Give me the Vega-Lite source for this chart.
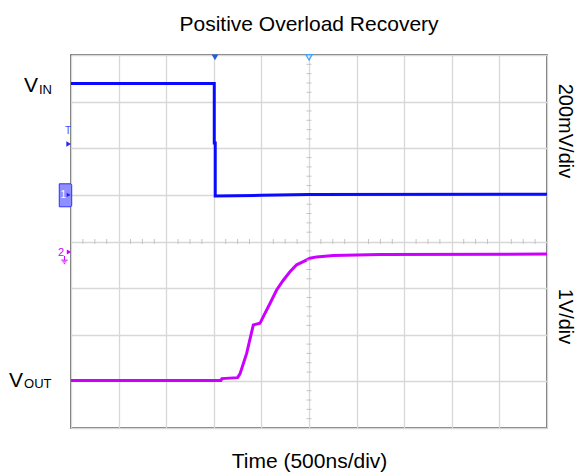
{
  "$schema": "https://vega.github.io/schema/vega-lite/v6.json",
  "width": 476,
  "height": 373,
  "autosize": {"type": "none"},
  "padding": {"left": 71, "top": 55, "right": 30, "bottom": 44},
  "title": {"text": "Positive Overload Recovery", "fontSize": 21, "font": "Liberation Sans", "fontWeight": "normal", "color": "#000000", "baseline": "alphabetic", "offset": 0, "anchor": "middle"},
  "config": {"view": {"stroke": "#4a4a4a", "strokeWidth": 1.5}, "font": "Liberation Sans"},
  "datasets": {
    "traces": [
      {"series": "VIN", "i": 0, "x": 0, "y": 3.39},
      {"series": "VIN", "i": 1, "x": 3.01, "y": 3.39},
      {"series": "VIN", "i": 2, "x": 3.01, "y": 2.11},
      {"series": "VIN", "i": 3, "x": 3.03, "y": 2.11},
      {"series": "VIN", "i": 4, "x": 3.03, "y": 0.975},
      {"series": "VIN", "i": 5, "x": 4.0, "y": 0.99},
      {"series": "VIN", "i": 6, "x": 5.0, "y": 1.01},
      {"series": "VIN", "i": 7, "x": 10, "y": 1.015},
      {"series": "VOUT", "i": 0, "x": 0, "y": -2.98},
      {"series": "VOUT", "i": 1, "x": 3.15, "y": -2.98},
      {"series": "VOUT", "i": 2, "x": 3.17, "y": -2.94},
      {"series": "VOUT", "i": 3, "x": 3.5, "y": -2.92},
      {"series": "VOUT", "i": 4, "x": 3.55, "y": -2.84},
      {"series": "VOUT", "i": 5, "x": 3.69, "y": -2.4},
      {"series": "VOUT", "i": 6, "x": 3.83, "y": -1.79},
      {"series": "VOUT", "i": 7, "x": 3.97, "y": -1.755},
      {"series": "VOUT", "i": 8, "x": 4.04, "y": -1.61},
      {"series": "VOUT", "i": 9, "x": 4.18, "y": -1.33},
      {"series": "VOUT", "i": 10, "x": 4.32, "y": -1.04},
      {"series": "VOUT", "i": 11, "x": 4.46, "y": -0.83},
      {"series": "VOUT", "i": 12, "x": 4.6, "y": -0.65},
      {"series": "VOUT", "i": 13, "x": 4.74, "y": -0.5},
      {"series": "VOUT", "i": 14, "x": 4.88, "y": -0.43},
      {"series": "VOUT", "i": 15, "x": 5.02, "y": -0.36},
      {"series": "VOUT", "i": 16, "x": 5.16, "y": -0.33},
      {"series": "VOUT", "i": 17, "x": 5.51, "y": -0.3},
      {"series": "VOUT", "i": 18, "x": 6.49, "y": -0.28},
      {"series": "VOUT", "i": 19, "x": 10, "y": -0.27}
    ],
    "minorX": [
      {"v": 0.25}, {"v": 0.5}, {"v": 0.75}, {"v": 1.25}, {"v": 1.5}, {"v": 1.75}, {"v": 2.25}, {"v": 2.5}, {"v": 2.75},
      {"v": 3.25}, {"v": 3.5}, {"v": 3.75}, {"v": 4.25}, {"v": 4.5}, {"v": 4.75}, {"v": 5.25}, {"v": 5.5}, {"v": 5.75},
      {"v": 6.25}, {"v": 6.5}, {"v": 6.75}, {"v": 7.25}, {"v": 7.5}, {"v": 7.75}, {"v": 8.25}, {"v": 8.5}, {"v": 8.75},
      {"v": 9.25}, {"v": 9.5}, {"v": 9.75}
    ],
    "minorY": [
      {"v": -3.8}, {"v": -3.6}, {"v": -3.4}, {"v": -3.2}, {"v": -2.8}, {"v": -2.6}, {"v": -2.4}, {"v": -2.2},
      {"v": -1.8}, {"v": -1.6}, {"v": -1.4}, {"v": -1.2}, {"v": -0.8}, {"v": -0.6}, {"v": -0.4}, {"v": -0.2},
      {"v": 0.2}, {"v": 0.4}, {"v": 0.6}, {"v": 0.8}, {"v": 1.2}, {"v": 1.4}, {"v": 1.6}, {"v": 1.8},
      {"v": 2.2}, {"v": 2.4}, {"v": 2.6}, {"v": 2.8}, {"v": 3.2}, {"v": 3.4}, {"v": 3.6}, {"v": 3.8}
    ],
    "bigLabels": [
      {"x": -0.987, "y": 3.213, "t": "V"},
      {"x": -1.303, "y": -3.114, "t": "V"}
    ],
    "subLabels": [
      {"x": -0.672, "y": 3.157, "t": "IN"},
      {"x": -0.987, "y": -3.149, "t": "OUT"}
    ],
    "scaleLabels": [
      {"x": 10.37, "y": 2.37, "t": "200mV/div"},
      {"x": 10.37, "y": -1.609, "t": "1V/div"}
    ],
    "trigFilled": [{"x": 3.025, "y": 3.95}],
    "trigHollow": [{"x": 5.0, "y": 3.95}],
    "blueArrows": [{"x": -0.048, "y": 2.09}],
    "blueT": [{"x": -0.063, "y": 2.3, "t": "T"}],
    "ch1Box": [{"x": -0.116, "y": 0.991}],
    "ch1Text": [{"x": -0.16, "y": 0.93, "t": "1"}],
    "ch1Arrow": [{"x": -0.05, "y": 1.0}],
    "ch2Arrow": [{"x": -0.042, "y": -0.225}],
    "ch2Text": [{"x": -0.21, "y": -0.311, "t": "2"}],
    "ch2Ground": [{"x": -0.137, "y": -0.4}]
  },
  "layer": [
    {
      "data": {"name": "traces"},
      "mark": {"type": "line", "strokeWidth": 3, "interpolate": "linear"},
      "encoding": {
        "x": {"field": "x", "type": "quantitative", "scale": {"domain": [0, 10], "nice": false, "zero": false},
          "axis": {"values": [0,1,2,3,4,5,6,7,8,9,10], "grid": true, "gridColor": "#d8d8d8", "gridWidth": 1.3, "ticks": false, "labels": false, "domain": false,
            "title": "Time (500ns/div)", "titleFontSize": 21, "titleFont": "Liberation Sans", "titleFontWeight": "normal", "titleColor": "#000000", "titleBaseline": "alphabetic", "titlePadding": 39}},
        "y": {"field": "y", "type": "quantitative", "scale": {"domain": [-4, 4], "nice": false, "zero": false},
          "axis": {"values": [-4,-3,-2,-1,0,1,2,3,4], "grid": true, "gridColor": "#d8d8d8", "gridWidth": 1.3, "ticks": false, "labels": false, "domain": false, "title": null}},
        "color": {"field": "series", "type": "nominal", "scale": {"domain": ["VIN", "VOUT"], "range": ["#0a0aff", "#cc00ff"]}, "legend": null},
        "order": {"field": "i", "type": "quantitative"}
      }
    },
    {
      "data": {"name": "minorX"},
      "mark": {"type": "tick", "orient": "vertical", "size": 5, "thickness": 1, "color": "#c4c4c4", "opacity": 1},
      "encoding": {
        "x": {"field": "v", "type": "quantitative", "scale": {"domain": [0, 10], "nice": false, "zero": false}},
        "y": {"datum": 0, "type": "quantitative", "scale": {"domain": [-4, 4], "nice": false, "zero": false}}
      }
    },
    {
      "data": {"name": "minorY"},
      "mark": {"type": "tick", "orient": "horizontal", "size": 5, "thickness": 1, "color": "#c4c4c4", "opacity": 1},
      "encoding": {
        "x": {"datum": 5, "type": "quantitative", "scale": {"domain": [0, 10], "nice": false, "zero": false}},
        "y": {"field": "v", "type": "quantitative", "scale": {"domain": [-4, 4], "nice": false, "zero": false}}
      }
    },
    {
      "data": {"name": "trigFilled"},
      "mark": {"type": "point", "shape": "triangle-down", "filled": true, "size": 45, "color": "#1e5fe0", "opacity": 1},
      "encoding": {
        "x": {"field": "x", "type": "quantitative", "scale": {"domain": [0, 10], "nice": false, "zero": false}},
        "y": {"field": "y", "type": "quantitative", "scale": {"domain": [-4, 4], "nice": false, "zero": false}}
      }
    },
    {
      "data": {"name": "trigHollow"},
      "mark": {"type": "point", "shape": "triangle-down", "filled": false, "size": 40, "stroke": "#3fa0ff", "strokeWidth": 1.2, "opacity": 1},
      "encoding": {
        "x": {"field": "x", "type": "quantitative", "scale": {"domain": [0, 10], "nice": false, "zero": false}},
        "y": {"field": "y", "type": "quantitative", "scale": {"domain": [-4, 4], "nice": false, "zero": false}}
      }
    },
    {
      "data": {"name": "bigLabels"},
      "mark": {"type": "text", "align": "left", "baseline": "alphabetic", "fontSize": 21, "font": "Liberation Sans", "color": "#000000"},
      "encoding": {
        "x": {"field": "x", "type": "quantitative", "scale": {"domain": [0, 10], "nice": false, "zero": false}},
        "y": {"field": "y", "type": "quantitative", "scale": {"domain": [-4, 4], "nice": false, "zero": false}},
        "text": {"field": "t"}
      }
    },
    {
      "data": {"name": "subLabels"},
      "mark": {"type": "text", "align": "left", "baseline": "alphabetic", "fontSize": 13, "font": "Liberation Sans", "color": "#000000"},
      "encoding": {
        "x": {"field": "x", "type": "quantitative", "scale": {"domain": [0, 10], "nice": false, "zero": false}},
        "y": {"field": "y", "type": "quantitative", "scale": {"domain": [-4, 4], "nice": false, "zero": false}},
        "text": {"field": "t"}
      }
    },
    {
      "data": {"name": "scaleLabels"},
      "mark": {"type": "text", "align": "center", "baseline": "middle", "angle": 90, "fontSize": 20, "font": "Liberation Sans", "color": "#000000"},
      "encoding": {
        "x": {"field": "x", "type": "quantitative", "scale": {"domain": [0, 10], "nice": false, "zero": false}},
        "y": {"field": "y", "type": "quantitative", "scale": {"domain": [-4, 4], "nice": false, "zero": false}},
        "text": {"field": "t"}
      }
    },
    {
      "data": {"name": "blueArrows"},
      "mark": {"type": "point", "shape": "triangle-right", "filled": true, "size": 30, "color": "#2a2aff", "opacity": 1},
      "encoding": {
        "x": {"field": "x", "type": "quantitative", "scale": {"domain": [0, 10], "nice": false, "zero": false}},
        "y": {"field": "y", "type": "quantitative", "scale": {"domain": [-4, 4], "nice": false, "zero": false}}
      }
    },
    {
      "data": {"name": "blueT"},
      "mark": {"type": "text", "align": "center", "baseline": "alphabetic", "fontSize": 10, "font": "Liberation Sans", "color": "#4a4aff"},
      "encoding": {
        "x": {"field": "x", "type": "quantitative", "scale": {"domain": [0, 10], "nice": false, "zero": false}},
        "y": {"field": "y", "type": "quantitative", "scale": {"domain": [-4, 4], "nice": false, "zero": false}},
        "text": {"field": "t"}
      }
    },
    {
      "data": {"name": "ch1Box"},
      "mark": {"type": "point", "shape": "M-0.54,-1H0.4Q0.54,-1 0.54,-0.86V0.86Q0.54,1 0.4,1H-0.54Z", "filled": true, "size": 529, "fill": "#8f8fff", "stroke": "#3030ff", "strokeWidth": 1, "opacity": 1},
      "encoding": {
        "x": {"field": "x", "type": "quantitative", "scale": {"domain": [0, 10], "nice": false, "zero": false}},
        "y": {"field": "y", "type": "quantitative", "scale": {"domain": [-4, 4], "nice": false, "zero": false}}
      }
    },
    {
      "data": {"name": "ch1Text"},
      "mark": {"type": "text", "align": "center", "baseline": "alphabetic", "fontSize": 10, "font": "Liberation Sans", "color": "#ffffff"},
      "encoding": {
        "x": {"field": "x", "type": "quantitative", "scale": {"domain": [0, 10], "nice": false, "zero": false}},
        "y": {"field": "y", "type": "quantitative", "scale": {"domain": [-4, 4], "nice": false, "zero": false}},
        "text": {"field": "t"}
      }
    },
    {
      "data": {"name": "ch1Arrow"},
      "mark": {"type": "point", "shape": "triangle-right", "filled": true, "size": 20, "color": "#2020ff", "opacity": 1},
      "encoding": {
        "x": {"field": "x", "type": "quantitative", "scale": {"domain": [0, 10], "nice": false, "zero": false}},
        "y": {"field": "y", "type": "quantitative", "scale": {"domain": [-4, 4], "nice": false, "zero": false}}
      }
    },
    {
      "data": {"name": "ch2Arrow"},
      "mark": {"type": "point", "shape": "triangle-right", "filled": true, "size": 25, "color": "#cc00ff", "opacity": 1},
      "encoding": {
        "x": {"field": "x", "type": "quantitative", "scale": {"domain": [0, 10], "nice": false, "zero": false}},
        "y": {"field": "y", "type": "quantitative", "scale": {"domain": [-4, 4], "nice": false, "zero": false}}
      }
    },
    {
      "data": {"name": "ch2Text"},
      "mark": {"type": "text", "align": "center", "baseline": "alphabetic", "fontSize": 11, "font": "Liberation Sans", "color": "#cc00ff"},
      "encoding": {
        "x": {"field": "x", "type": "quantitative", "scale": {"domain": [0, 10], "nice": false, "zero": false}},
        "y": {"field": "y", "type": "quantitative", "scale": {"domain": [-4, 4], "nice": false, "zero": false}},
        "text": {"field": "t"}
      }
    },
    {
      "data": {"name": "ch2Ground"},
      "mark": {"type": "point", "shape": "M0,-1.2V0M-0.9,0H0.9M-0.56,0.5H0.56M-0.2,1H0.2", "filled": false, "size": 49, "stroke": "#cc00ff", "strokeWidth": 1, "opacity": 1},
      "encoding": {
        "x": {"field": "x", "type": "quantitative", "scale": {"domain": [0, 10], "nice": false, "zero": false}},
        "y": {"field": "y", "type": "quantitative", "scale": {"domain": [-4, 4], "nice": false, "zero": false}}
      }
    }
  ]
}
